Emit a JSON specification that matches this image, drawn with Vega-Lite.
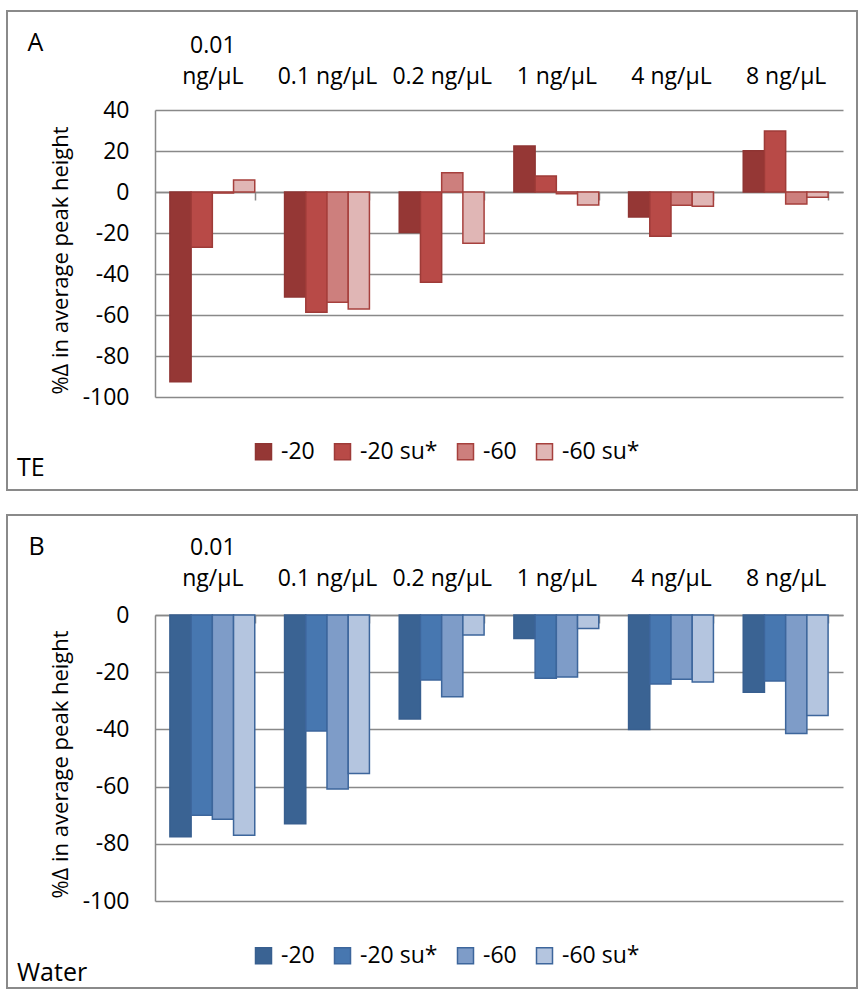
{
  "$schema": "https://vega.github.io/schema/vega-lite/v6.json",
  "padding": {"left": 6, "top": 10, "right": 0, "bottom": 0},
  "spacing": 23,
  "config": {
    "font": "Open Sans",
    "view": {"stroke": "#8a8a8a", "strokeWidth": 2},
    "axis": {
      "labelFont": "Open Sans", "labelFontSize": 23, "labelColor": "#000",
      "titleFont": "Open Sans", "titleColor": "#000", "titleFontWeight": "normal",
      "domainColor": "#898989", "domainWidth": 1.5,
      "gridColor": "#898989", "gridWidth": 1.5,
      "tickColor": "#898989", "tickWidth": 1.5
    },
    "legend": {"labelFont": "Open Sans", "labelFontSize": 23, "labelColor": "#000", "padding": 0},
    "title": {"font": "Open Sans", "fontSize": 25, "fontWeight": "normal", "color": "#000"}
  },
  "datasets": {
    "te": [
      {"conc": "0.01 ng/µL", "series": "-20", "value": -92.5},
      {"conc": "0.01 ng/µL", "series": "-20 su*", "value": -26.9},
      {"conc": "0.01 ng/µL", "series": "-60", "value": -0.5},
      {"conc": "0.01 ng/µL", "series": "-60 su*", "value": 5.9},
      {"conc": "0.1 ng/µL", "series": "-20", "value": -51.2},
      {"conc": "0.1 ng/µL", "series": "-20 su*", "value": -58.7},
      {"conc": "0.1 ng/µL", "series": "-60", "value": -53.8},
      {"conc": "0.1 ng/µL", "series": "-60 su*", "value": -57.1},
      {"conc": "0.2 ng/µL", "series": "-20", "value": -19.7},
      {"conc": "0.2 ng/µL", "series": "-20 su*", "value": -44.0},
      {"conc": "0.2 ng/µL", "series": "-60", "value": 9.4},
      {"conc": "0.2 ng/µL", "series": "-60 su*", "value": -25.0},
      {"conc": "1 ng/µL", "series": "-20", "value": 22.4},
      {"conc": "1 ng/µL", "series": "-20 su*", "value": 7.8},
      {"conc": "1 ng/µL", "series": "-60", "value": -0.8},
      {"conc": "1 ng/µL", "series": "-60 su*", "value": -6.3},
      {"conc": "4 ng/µL", "series": "-20", "value": -12.2},
      {"conc": "4 ng/µL", "series": "-20 su*", "value": -21.6},
      {"conc": "4 ng/µL", "series": "-60", "value": -6.5},
      {"conc": "4 ng/µL", "series": "-60 su*", "value": -7.0},
      {"conc": "8 ng/µL", "series": "-20", "value": 20.1},
      {"conc": "8 ng/µL", "series": "-20 su*", "value": 29.8},
      {"conc": "8 ng/µL", "series": "-60", "value": -5.9},
      {"conc": "8 ng/µL", "series": "-60 su*", "value": -2.6}
    ],
    "water": [
      {"conc": "0.01 ng/µL", "series": "-20", "value": -77.5},
      {"conc": "0.01 ng/µL", "series": "-20 su*", "value": -70.0},
      {"conc": "0.01 ng/µL", "series": "-60", "value": -71.4},
      {"conc": "0.01 ng/µL", "series": "-60 su*", "value": -77.0},
      {"conc": "0.1 ng/µL", "series": "-20", "value": -73.0},
      {"conc": "0.1 ng/µL", "series": "-20 su*", "value": -40.6},
      {"conc": "0.1 ng/µL", "series": "-60", "value": -60.8},
      {"conc": "0.1 ng/µL", "series": "-60 su*", "value": -55.4},
      {"conc": "0.2 ng/µL", "series": "-20", "value": -36.4},
      {"conc": "0.2 ng/µL", "series": "-20 su*", "value": -22.7},
      {"conc": "0.2 ng/µL", "series": "-60", "value": -28.6},
      {"conc": "0.2 ng/µL", "series": "-60 su*", "value": -7.0},
      {"conc": "1 ng/µL", "series": "-20", "value": -8.2},
      {"conc": "1 ng/µL", "series": "-20 su*", "value": -22.1},
      {"conc": "1 ng/µL", "series": "-60", "value": -21.7},
      {"conc": "1 ng/µL", "series": "-60 su*", "value": -4.7},
      {"conc": "4 ng/µL", "series": "-20", "value": -40.0},
      {"conc": "4 ng/µL", "series": "-20 su*", "value": -24.1},
      {"conc": "4 ng/µL", "series": "-60", "value": -22.5},
      {"conc": "4 ng/µL", "series": "-60 su*", "value": -23.4},
      {"conc": "8 ng/µL", "series": "-20", "value": -27.0},
      {"conc": "8 ng/µL", "series": "-20 su*", "value": -23.1},
      {"conc": "8 ng/µL", "series": "-60", "value": -41.4},
      {"conc": "8 ng/µL", "series": "-60 su*", "value": -35.1}
    ]
  },
  "vconcat": [
    {
      "width": 850,
      "height": 479,
      "data": {"name": "te"},
      "title": {"text": "TE", "orient": "bottom", "anchor": "start", "frame": "group", "offset": -34, "dx": 10},
      "mark": {"type": "bar", "strokeWidth": 1.5},
      "encoding": {
        "x": {
          "field": "conc", "type": "nominal",
          "sort": ["0.01 ng/µL", "0.1 ng/µL", "0.2 ng/µL", "1 ng/µL", "4 ng/µL", "8 ng/µL"],
          "scale": {"range": [148, 836], "paddingInner": 0.26, "paddingOuter": 0.13},
          "axis": {
            "orient": "top", "offset": -181,
            "title": "A", "titleX": 20, "titleY": -142, "titleAlign": "left", "titleBaseline": "alphabetic", "titleFontSize": 25, "titleAngle": 0,
            "labelAngle": 0, "labelExpr": "datum.value == '0.01 ng/µL' ? ['0.01', 'ng/µL'] : ['', datum.label]",
            "labelLineHeight": 31, "labelBaseline": "alphabetic",
            "tickBand": "extent", "tickSize": -8, "labelPadding": 148, "grid": false
          }
        },
        "xOffset": {"field": "series", "type": "nominal", "sort": ["-20", "-20 su*", "-60", "-60 su*"]},
        "y": {
          "field": "value", "type": "quantitative",
          "scale": {"domain": [-100, 40], "range": [386, 99], "nice": false},
          "axis": {
            "values": [-100, -80, -60, -40, -20, 0, 20, 40], "offset": -148, "ticks": false, "labelPadding": 26, "grid": true,
            "labelExpr": "toString(datum.value)",
            "title": "%Δ in average peak height", "titleX": -95, "titleY": 249, "titleBaseline": "middle", "titleAlign": "center", "titleFontSize": 22, "titleAngle": -90
          }
        },
        "fill": {
          "field": "series", "type": "nominal",
          "scale": {"domain": ["-20", "-20 su*", "-60", "-60 su*"], "range": ["#953735", "#B84A47", "#CD7F7D", "#E0B6B5"]},
          "legend": {"orient": "none", "legendX": 245, "legendY": 429, "direction": "horizontal", "columns": 4, "title": null, "symbolType": "square", "symbolSize": 256, "symbolStrokeWidth": 1.5, "columnPadding": 16, "labelOffset": 6}
        },
        "stroke": {
          "field": "series", "type": "nominal",
          "scale": {"domain": ["-20", "-20 su*", "-60", "-60 su*"], "range": ["#8F3533", "#9E3B38", "#A6403D", "#A6403D"]},
          "legend": {"orient": "none", "legendX": 245, "legendY": 429, "direction": "horizontal", "columns": 4, "title": null, "symbolType": "square", "symbolSize": 256, "symbolStrokeWidth": 1.5, "columnPadding": 16, "labelOffset": 6}
        }
      }
    },
    {
      "width": 850,
      "height": 473,
      "data": {"name": "water"},
      "title": {"text": "Water", "orient": "bottom", "anchor": "start", "frame": "group", "offset": -27, "dx": 10},
      "mark": {"type": "bar", "strokeWidth": 1.5},
      "encoding": {
        "x": {
          "field": "conc", "type": "nominal",
          "sort": ["0.01 ng/µL", "0.1 ng/µL", "0.2 ng/µL", "1 ng/µL", "4 ng/µL", "8 ng/µL"],
          "scale": {"range": [148, 836], "paddingInner": 0.26, "paddingOuter": 0.13},
          "axis": {
            "orient": "top", "offset": -100,
            "title": "B", "titleX": 21, "titleY": -61, "titleAlign": "left", "titleBaseline": "alphabetic", "titleFontSize": 25, "titleAngle": 0,
            "labelAngle": 0, "labelExpr": "datum.value == '0.01 ng/µL' ? ['0.01', 'ng/µL'] : ['', datum.label]",
            "labelLineHeight": 31, "labelBaseline": "alphabetic",
            "tickBand": "extent", "tickSize": -8, "labelPadding": 69, "grid": false
          }
        },
        "xOffset": {"field": "series", "type": "nominal", "sort": ["-20", "-20 su*", "-60", "-60 su*"]},
        "y": {
          "field": "value", "type": "quantitative",
          "scale": {"domain": [-100, 0], "range": [386, 100], "nice": false},
          "axis": {
            "values": [-100, -80, -60, -40, -20, 0], "offset": -148, "ticks": false, "labelPadding": 26, "grid": true,
            "labelExpr": "toString(datum.value)",
            "title": "%Δ in average peak height", "titleX": -95, "titleY": 249, "titleBaseline": "middle", "titleAlign": "center", "titleFontSize": 22, "titleAngle": -90
          }
        },
        "fill": {
          "field": "series", "type": "nominal",
          "scale": {"domain": ["-20", "-20 su*", "-60", "-60 su*"], "range": ["#3A6393", "#4777B0", "#7E9CC8", "#B4C5DF"]},
          "legend": {"orient": "none", "legendX": 245, "legendY": 429, "direction": "horizontal", "columns": 4, "title": null, "symbolType": "square", "symbolSize": 256, "symbolStrokeWidth": 1.5, "columnPadding": 16, "labelOffset": 6}
        },
        "stroke": {
          "field": "series", "type": "nominal",
          "scale": {"domain": ["-20", "-20 su*", "-60", "-60 su*"], "range": ["#385F8F", "#3D669C", "#3D669C", "#3D669C"]},
          "legend": {"orient": "none", "legendX": 245, "legendY": 429, "direction": "horizontal", "columns": 4, "title": null, "symbolType": "square", "symbolSize": 256, "symbolStrokeWidth": 1.5, "columnPadding": 16, "labelOffset": 6}
        }
      }
    }
  ],
  "resolve": {
    "scale": {"x": "independent", "y": "independent", "fill": "independent", "stroke": "independent"},
    "legend": {"fill": "independent", "stroke": "independent"}
  }
}
